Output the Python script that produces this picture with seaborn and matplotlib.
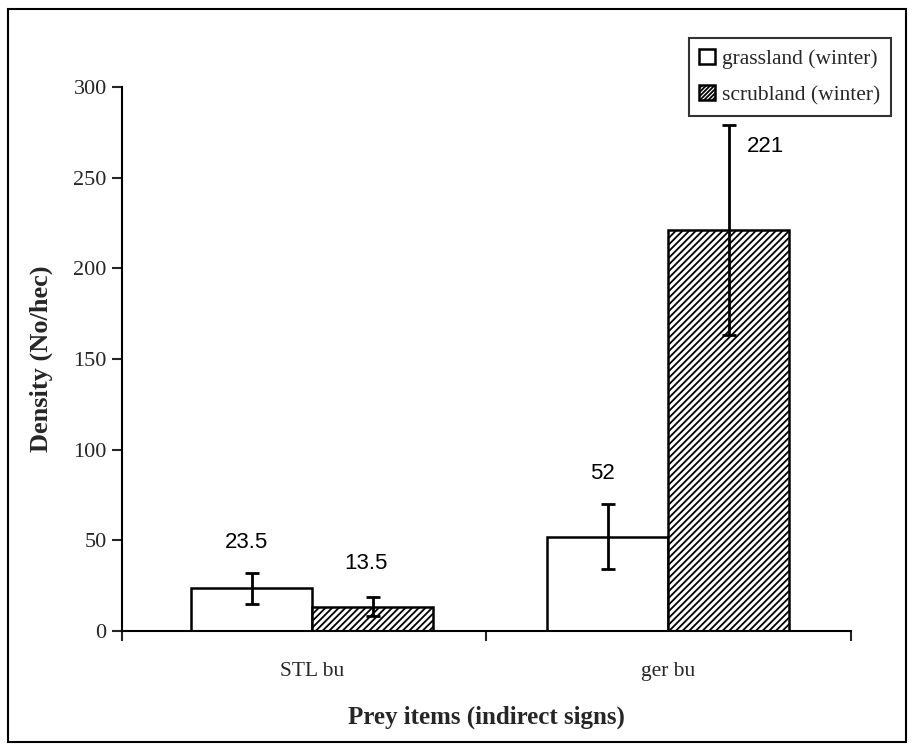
import matplotlib
matplotlib.use("Agg")
import matplotlib.pyplot as plt
import seaborn as sns
import pandas as pd
from matplotlib.patches import Rectangle, Patch

categories = ["STL bu", "ger bu"]
habitats = ["grassland (winter)", "scrubland (winter)"]
grassland = [23.5, 52]
scrubland = [13.5, 221]
grassland_err = [8.5, 18]
scrubland_err = [5.5, 58]
value_labels_grass = ["23.5", "52"]
value_labels_scrub = ["13.5", "221"]

df = pd.DataFrame({
    "cat": categories * 2,
    "hab": [habitats[0]] * 2 + [habitats[1]] * 2,
    "val": grassland + scrubland,
})

sns.set_style("white")
plt.rcParams["font.family"] = ["Liberation Serif", "DejaVu Serif"]
plt.rcParams["hatch.linewidth"] = 1.3

fig = plt.figure(figsize=(9.16, 7.51), dpi=100)
ax = fig.add_axes([0.1332, 0.1598, 0.7958, 0.7244])

sns.barplot(data=df, x="cat", y="val", hue="hab", order=categories,
            hue_order=habitats, palette=["white", "white"], edgecolor="black",
            linewidth=1.8, width=0.68, errorbar=None, legend=False, ax=ax,
            saturation=1)

bars = [p for p in ax.patches if isinstance(p, Rectangle)]
gbars = bars[:len(categories)]
sbars = bars[len(categories):]
for b in sbars:
    b.set_hatch("/////")

gx = [b.get_x() + b.get_width() / 2 for b in gbars]
sx = [b.get_x() + b.get_width() / 2 for b in sbars]
ax.errorbar(gx, grassland, yerr=grassland_err, fmt="none", ecolor="black",
            elinewidth=2, capsize=5, capthick=2, zorder=5)
ax.errorbar(sx, scrubland, yerr=scrubland_err, fmt="none", ecolor="black",
            elinewidth=2, capsize=5, capthick=2, zorder=5)

lab_font = dict(family=["Liberation Sans", "DejaVu Sans"], fontsize=16,
                ha="center", va="center", color="black")
for i in range(len(categories)):
    ax.text(gx[i] - 0.015, grassland[i] + grassland_err[i] + 17,
            value_labels_grass[i], **lab_font)
ax.text(sx[0] - 0.02, scrubland[0] + scrubland_err[0] + 18, value_labels_scrub[0], **lab_font)
ax.text(sx[1] + 0.105, scrubland[1] + 46, value_labels_scrub[1], **lab_font)

ax.set_ylim(0, 300)
ax.set_xlim(-0.534, 1.514)
ax.set_yticks([0, 50, 100, 150, 200, 250, 300])
ax.tick_params(axis="y", labelsize=16, length=7, width=1.5, direction="out",
               left=True, pad=4)
ax.set_xticks([0, 1])
ax.set_xticklabels(categories)
ax.tick_params(axis="x", which="major", length=0, labelsize=15.5, pad=22)
ax.set_xticks([-0.534, 0.49, 1.514], minor=True)
ax.tick_params(axis="x", which="minor", length=7, width=1.5, direction="out",
               bottom=True)

for s in ["top", "right"]:
    ax.spines[s].set_visible(False)
for s in ["left", "bottom"]:
    ax.spines[s].set_color("black")
    ax.spines[s].set_linewidth(1.5)

ax.set_ylabel("Density (No/hec)", fontsize=19, fontweight="bold")
ax.set_xlabel("Prey items (indirect signs)", fontsize=18, fontweight="bold",
              labelpad=18)
ax.yaxis.set_label_coords(-0.095, 0.5)

handles = [Patch(facecolor="white", edgecolor="black", linewidth=1.8),
           Patch(facecolor="white", edgecolor="black", linewidth=1.8, hatch="////////")]
leg = ax.legend(handles, habitats, loc="upper right",
                bbox_to_anchor=(1.055, 1.09),
                fontsize=15.5, frameon=True, fancybox=False, handlelength=0.7,
                handleheight=0.7, handletextpad=0.35, borderpad=0.5,
                labelspacing=0.75, borderaxespad=0)
leg.get_frame().set_edgecolor("black")
leg.get_frame().set_linewidth(1.5)

fig.patches.append(Rectangle((8 / 916, 9 / 751), 898 / 916, 733 / 751,
                             transform=fig.transFigure, fill=False,
                             edgecolor="black", linewidth=1.5))

fig.savefig("out.png", dpi=100, facecolor="white")
